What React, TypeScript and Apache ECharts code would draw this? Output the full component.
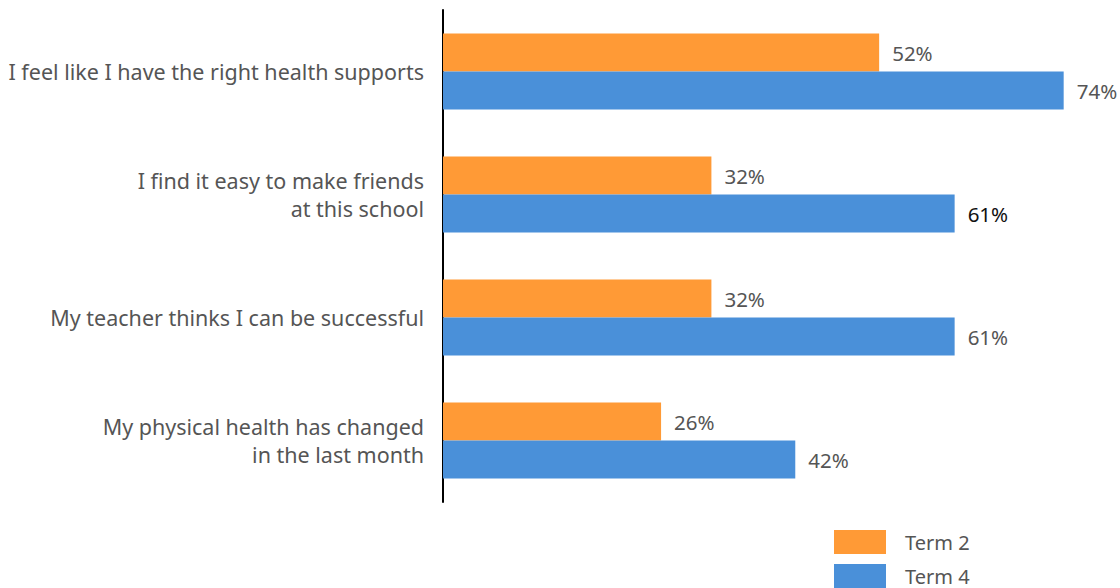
import React, { useEffect, useRef } from "react";
import * as echarts from "echarts";

const categories = [
  "I feel like I have the right health supports",
  "I find it easy to make friends\nat this school",
  "My teacher thinks I can be successful",
  "My physical health has changed\nin the last month",
];
const term2 = [52, 32, 32, 26];
const term4 = [74, 61, 61, 42];
const seriesNames = ["Term 2", "Term 4"];

export default function App() {
  const ref = useRef<HTMLDivElement>(null);
  useEffect(() => {
    const chart = echarts.init(ref.current!, null, { renderer: "svg" });
    const font = "Noto Sans";
    const labelCfg = () => ({
      show: true,
      position: "right",
      distance: 13,
      fontFamily: font,
      fontSize: 20.5,
      color: "#555",
      formatter: "{c}%",
    });
    chart.setOption({
      animation: false,
      grid: { left: 443, right: 6, top: 10, bottom: 86 },
      xAxis: { type: "value", min: 0, max: 80, show: false },
      yAxis: {
        type: "category",
        data: categories,
        inverse: true,
        axisLine: { show: true, lineStyle: { color: "#000", width: 2 } },
        axisTick: { show: false },
        axisLabel: {
          margin: 19,
          fontFamily: font,
          fontSize: 21.5,
          color: "#555",
          lineHeight: 28,
          align: "right",
        },
      },
      legend: {
        orient: "vertical",
        left: 834,
        top: 530,
        padding: 0,
        itemWidth: 52,
        itemHeight: 24,
        itemGap: 10,
        icon: "rect",
        textStyle: { fontFamily: font, fontSize: 20, color: "#555", padding: [0, 0, 0, 14] },
        data: seriesNames,
      },
      series: [
        {
          name: seriesNames[0],
          type: "bar",
          data: term2,
          barWidth: 38,
          barGap: "0%",
          itemStyle: { color: "#FF9A36" },
          label: labelCfg(),
        },
        {
          name: seriesNames[1],
          type: "bar",
          data: term4.map((v, i) =>
            i === 1 ? { value: v, label: { color: "#111" } } : v
          ),
          barWidth: 38,
          barGap: "0%",
          itemStyle: { color: "#4A90D9" },
          label: labelCfg(),
        },
      ],
    });
    return () => chart.dispose();
  }, []);
  return (
    <div
      ref={ref}
      style={{ position: "fixed", left: 0, top: 0, width: 1120, height: 588, background: "#fff" }}
    />
  );
}
